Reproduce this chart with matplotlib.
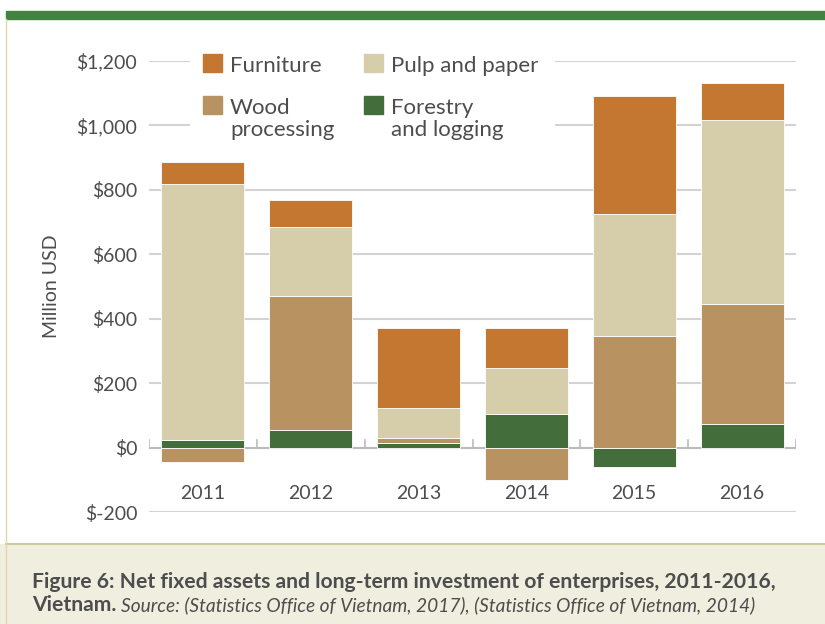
import numpy as np
import matplotlib
matplotlib.use("Agg")
import matplotlib.pyplot as plt
from matplotlib.patches import Rectangle

plt.rcParams['font.family'] = ['Lato', 'DejaVu Sans']

# data (million USD)
years = ['2011', '2012', '2013', '2014', '2015', '2016']
forestry = [22, 55, 13, 105, -60, 72]
wood = [-44, 415, 18, -100, 345, 373]
pulp = [796, 216, 91, 141, 381, 571]
furniture = [67, 83, 249, 124, 365, 116]

names = ['Forestry\nand logging', 'Wood\nprocessing', 'Pulp and paper', 'Furniture']
colors = ['#436E3B', '#B99262', '#D6CEAB', '#C47731']
values = [forestry, wood, pulp, furniture]

text_col = '#4D4D4D'
W, H = 825, 624


def fx(px):
    return px / W


def fy(py):
    return 1 - py / H


fig = plt.figure(figsize=(W / 100, H / 100), dpi=100)

# frame decorations: green band, left rule, caption box
fig.patches.append(Rectangle((fx(6), fy(19)), 1, 8 / H, transform=fig.transFigure,
                             color='#42843F', zorder=0))
fig.patches.append(Rectangle((0, 0), 1, fy(544), transform=fig.transFigure,
                             facecolor='#F0EEDF', edgecolor='none', zorder=0))
fig.lines.append(plt.Line2D([fx(6), 1], [fy(544)] * 2, transform=fig.transFigure,
                            color='#CFC99A', lw=1.5))
fig.lines.append(plt.Line2D([fx(6)] * 2, [0, fy(19)], transform=fig.transFigure,
                            color='#DDD8AE', lw=1))

ax = fig.add_axes([fx(149), fy(512), (796 - 149) / W, (512 - 61) / H])
x = np.arange(len(years))
pos_base = np.zeros(len(years))
neg_base = np.zeros(len(years))
for vals, col in zip(values, colors):
    v = np.array(vals, dtype=float)
    base = np.where(v >= 0, pos_base, neg_base)
    ax.bar(x, v, 0.77, bottom=base, color=col, edgecolor='white', linewidth=0.6, zorder=3)
    pos_base += np.where(v >= 0, v, 0)
    neg_base += np.where(v < 0, v, 0)

ax.set_xlim(-0.5, len(years) - 0.5)
ax.set_ylim(-200, 1200)
yt = np.arange(-200, 1201, 200)
ax.set_yticks(yt)
ax.set_yticklabels([f'${v:,}' if v >= 0 else f'$-{abs(v)}' for v in yt],
                   fontsize=14, color=text_col)
ax.tick_params(axis='y', length=0, pad=8.5)
ax.set_xticks([])
for s in ax.spines.values():
    s.set_visible(False)
ax.grid(axis='y', color='#D3D3D3', lw=1.5, zorder=0)
ax.axhline(0, color='#BBBBBB', lw=1.5, zorder=2)
for b in np.arange(-0.5, len(years), 1.0):
    ax.plot([b, b], [0, 22], color='#BBBBBB', lw=1.2, zorder=2)
for xi, yr in zip(x, years):
    ax.text(xi, -143, yr, ha='center', va='center', fontsize=14, color=text_col)

ax.set_ylabel('Million USD', fontsize=14, color=text_col, labelpad=12)

# legend drawn by hand so the swatches sit on the first text line
fig.patches.append(Rectangle((fx(190), fy(142)), (555 - 190) / W, (142 - 45) / H,
                             transform=fig.transFigure, facecolor='white',
                             edgecolor='none', zorder=4))
leg_items = [  # (series index, swatch x, baseline y)
    (3, 203, 72), (2, 364, 72), (1, 203, 114), (0, 364, 114),
]
for i, sx, base in leg_items:
    fig.patches.append(Rectangle((fx(sx), fy(base)), 19 / W, 18 / H,
                                 transform=fig.transFigure, color=colors[i], zorder=5))
    for k, line in enumerate(names[i].split('\n')):
        fig.text(fx(sx + 27), fy(base + 22 * k), line, fontsize=16, color=text_col,
                 va='baseline', ha='left', zorder=6)

# caption
fig.text(fx(32), fy(588),
         'Figure 6: Net fixed assets and long-term investment of enterprises, 2011-2016,',
         fontsize=15.2, fontweight='bold', color=text_col, va='baseline')
t2 = fig.text(fx(32), fy(611), 'Vietnam.', fontsize=15.2, fontweight='bold',
              color=text_col, va='baseline')
fig.canvas.draw()
bb = t2.get_window_extent()
fig.text(bb.x1 / W + fx(5), fy(611),
         'Source: (Statistics Office of Vietnam, 2017), (Statistics Office of Vietnam, 2014)',
         fontsize=13.8, style='italic', color=text_col, va='baseline')

fig.savefig('out.png', dpi=100)
